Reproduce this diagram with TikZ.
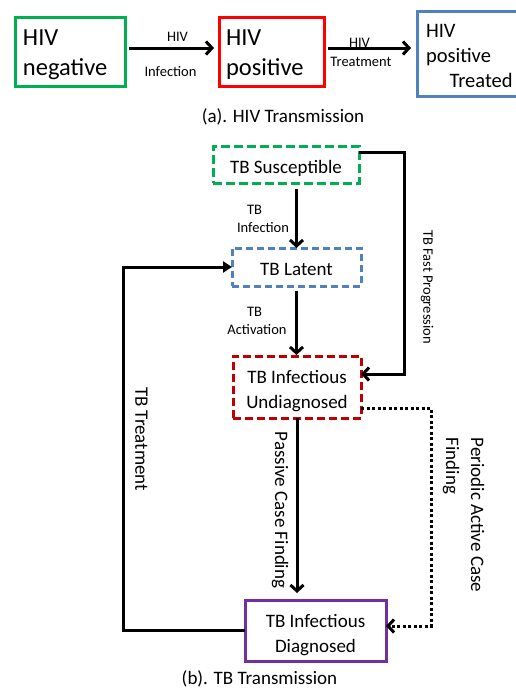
\documentclass[tikz,border=0pt]{standalone}
\usepackage{fontspec}
\setmainfont{Carlito}
\usetikzlibrary{arrows.meta}
\definecolor{hivgreen}{HTML}{00B050}
\definecolor{hivred}{HTML}{FF0000}
\definecolor{hivblue}{HTML}{4F81BD}
\definecolor{tbred}{HTML}{C00000}
\definecolor{tbpurple}{HTML}{7030A0}
\begin{document}
\begin{tikzpicture}[x=1pt,y=-1pt,
  every node/.style={inner sep=0pt, outer sep=0pt},
  hivbox/.style={draw, line width=3pt, align=left, inner xsep=8pt},
  hivtext/.style={align=left, font=\fontsize{24.5}{30.5}\selectfont},
  tbbox/.style={draw, line width=3pt},
  tbtext/.style={align=center, font=\fontsize{19}{25}\selectfont},
  dashbox/.style={tbbox, dash pattern=on 9pt off 4pt},
  small/.style={font=\fontsize{14.5}{17}\selectfont},
  big/.style={font=\fontsize{19}{25}\selectfont},
  flow/.style={line width=3pt, -{Straight Barb[length=6pt,width=13pt]}},
  ret/.style={line width=3pt, -{Triangle[length=9pt,width=11pt]}},
  dotflow/.style={line width=3pt, dash pattern=on 3pt off 2.5pt,
    -{Straight Barb[length=6pt,width=13pt]}},
]
\clip (0,0) rectangle (516,689);

% (a) HIV transmission
\node[hivbox, draw=hivgreen, minimum width=110pt, minimum height=69pt,
  label={[hivtext, text width=94pt, yshift=-3pt]center:{HIV\\negative}}] (hivneg) at (70,51.5) {};
\node[hivbox, draw=hivred, minimum width=105pt, minimum height=69pt,
  label={[hivtext, text width=91pt, yshift=-3pt]center:{HIV\\positive}}] (hivpos) at (271.5,51.5) {};
\node[hivbox, draw=hivblue, minimum width=108pt, minimum height=85pt,
  label={[hivtext, text width=90pt, yshift=-2pt, font=\fontsize{20.5}{25}\selectfont]center:{HIV\\positive\\\hspace*{1.15em}Treated}}] (hivtrt) at (471,53.5) {};

\draw[flow, shorten <=4pt, shorten >=5pt] ([yshift=3.5pt]hivneg.east) -- ([yshift=3.5pt]hivpos.west);
\draw[flow, shorten <=4pt, shorten >=6pt] ([yshift=3.5pt]hivpos.east) -- ([yshift=3.5pt]hivpos.east -| hivtrt.west);

\node[small] (lhiv1) at (177.5,36.5) {HIV};
\node[small] (linf1) at (170.5,71.5) {Infection};
\node[small] (lhiv2) at (359.5,43) {HIV};
\node[small] (ltrt2) at (361,61.5) {Treatment};

\node[big] (capa) at (283,116.5) {(a). HIV Transmission};

% (b) TB transmission
\node[dashbox, draw=hivgreen, minimum width=146pt, minimum height=37pt,
  label={[tbtext, yshift=-4pt]center:TB Susceptible}] (sus) at (286,164.5) {};
\node[dashbox, draw=hivblue, dash pattern=on 7pt off 4pt, minimum width=129pt, minimum height=38pt,
  label={[tbtext, yshift=-2pt]center:TB Latent}] (lat) at (296.5,267) {};
\node[dashbox, draw=tbred, dash pattern=on 8pt off 4pt, minimum width=128pt, minimum height=62pt,
  label={[tbtext, yshift=-4pt]center:{TB Infectious\\Undiagnosed}}] (und) at (297,387) {};
\node[tbbox, draw=tbpurple, minimum width=141pt, minimum height=61pt,
  label={[tbtext, yshift=-5pt]center:{TB Infectious\\Diagnosed}}] (diag) at (315.5,630.5) {};

\coordinate (fast) at (404,0);
\coordinate (pacf) at (431,0);
\coordinate (trt) at (123,0);

\draw[flow, shorten <=6pt] (lat.north |- sus.south) -- (lat.north);
\draw[flow, shorten <=5pt, shorten >=1pt] (lat.south) -- (lat.south |- und.north);
\draw[flow, shorten >=7pt] (und.south) -- (und.south |- diag.north);
\draw[flow, line join=miter] ([yshift=12.5pt]sus.east) -- ([yshift=12.5pt]sus.east -| fast) |- ([yshift=13pt]und.east);
\draw[dotflow] ([yshift=-21pt]und.east) -- ([yshift=-21pt]und.east -| pacf) |- ([yshift=4.5pt]diag.east);
\draw[ret, line join=miter] (diag.west) -- (diag.west -| trt) |- (lat.west);

\node[small] (ltb1) at (254.5,210) {TB};
\node[small] (linf) at (263,227.5) {Infection};
\node[small] (ltb2) at (254.5,312) {TB};
\node[small] (lact) at (257,330) {Activation};

\node[small, rotate=-90] (lfast) at (427,287) {TB Fast Progression};
\node[big, rotate=-90] (lpass) at (280,510) {Passive Case Finding};
\node[big, rotate=-90] (ltrt) at (141.5,439) {TB Treatment};
\node[big, rotate=-90, align=left] (lpacf) at (463.5,515) {Periodic Active Case\\Finding};

\node[big] (capb) at (259.5,679) {(b). TB Transmission};
\end{tikzpicture}
\end{document}
